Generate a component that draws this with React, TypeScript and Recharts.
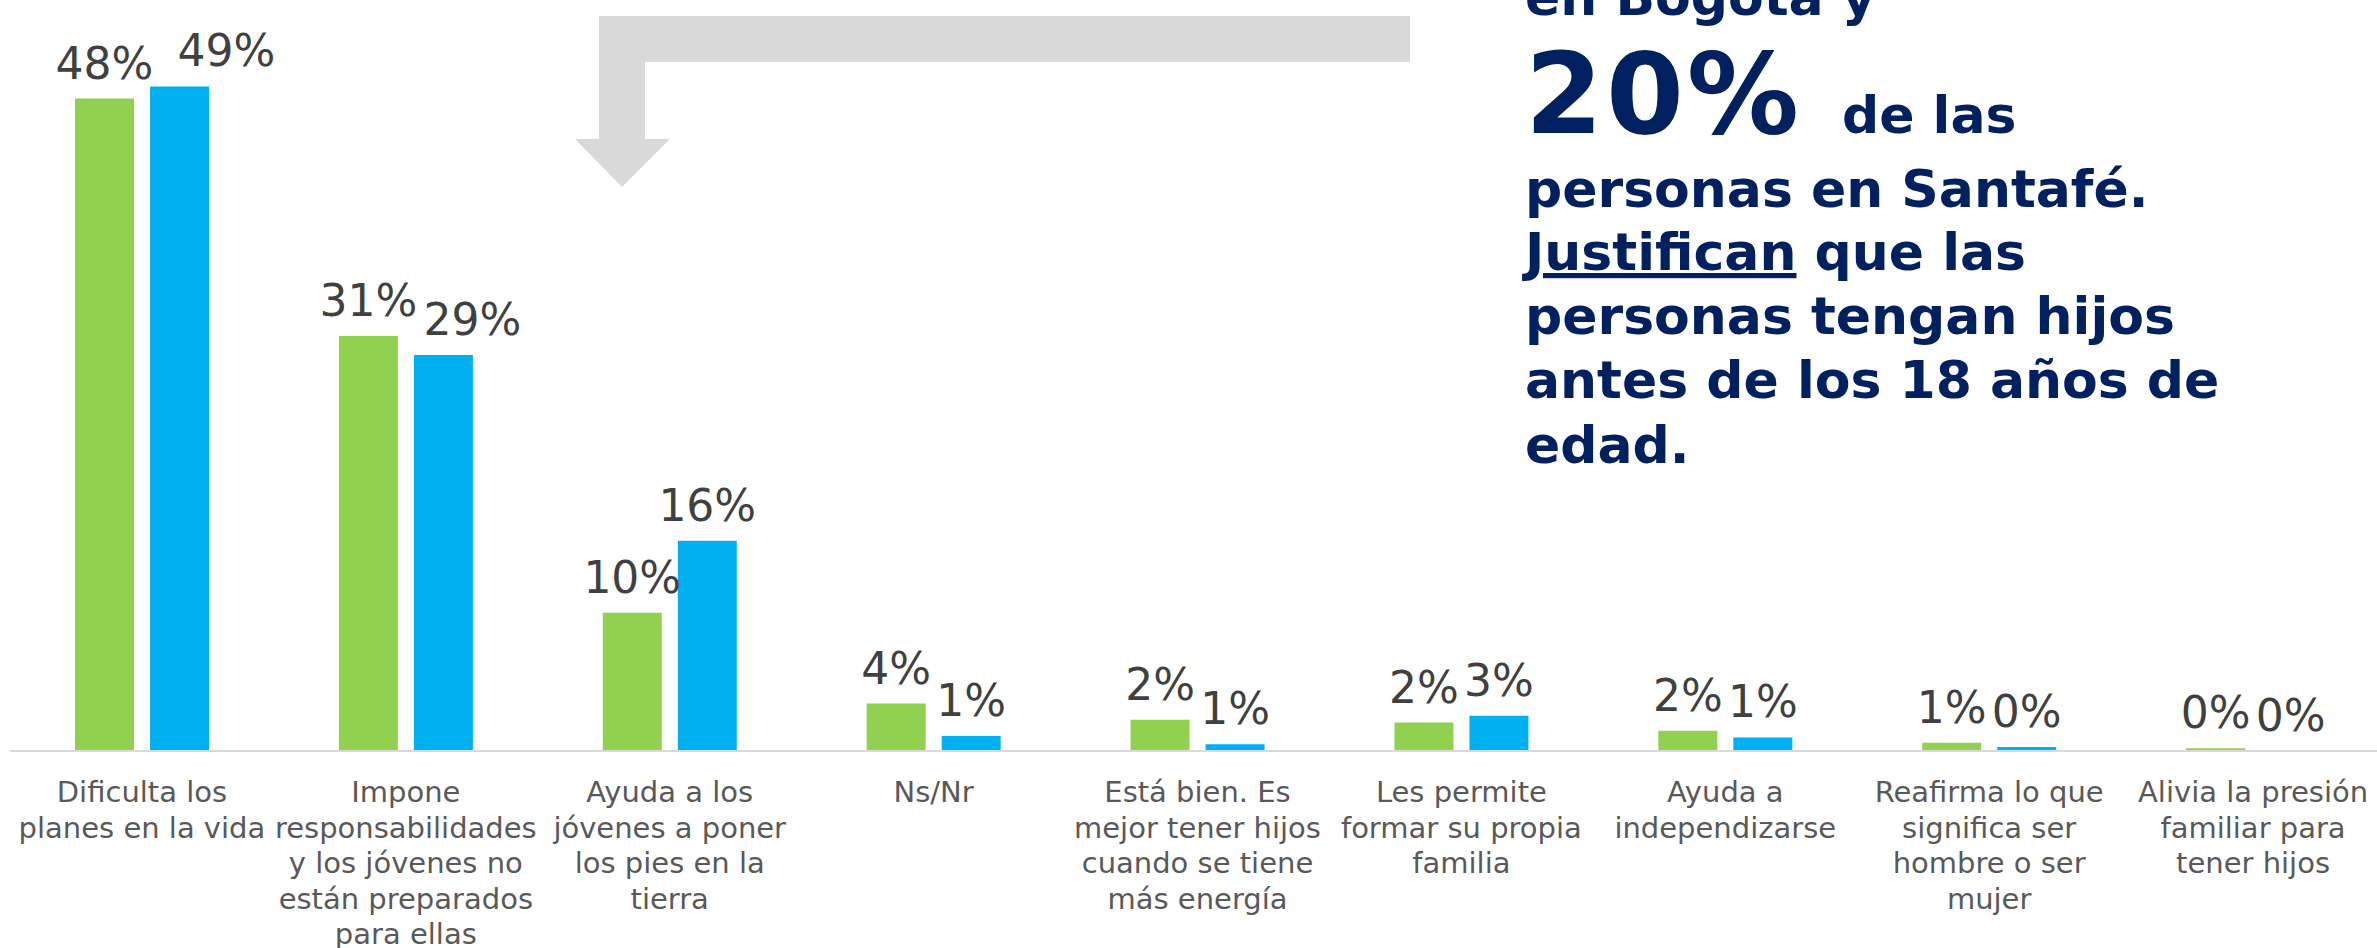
import React from 'react';
import { BarChart, Bar, XAxis, YAxis, LabelList } from 'recharts';

// categories, line breaks as in the original slide
const categories = [
    'Dificulta los\nplanes en la vida',
    'Impone\nresponsabilidades\ny los jóvenes no\nestán preparados\npara ellas',
    'Ayuda a los\njóvenes a poner\nlos pies en la\ntierra',
    'Ns/Nr',
    'Está bien. Es\nmejor tener hijos\ncuando se tiene\nmás energía',
    'Les permite\nformar su propia\nfamilia',
    'Ayuda a\nindependizarse',
    'Reafirma lo que\nsignifica ser\nhombre o ser\nmujer',
    'Alivia la presión\nfamiliar para\ntener hijos',
];

// % per category (green = Bogotá, blue = Santafé)
const bogota = [48.1, 30.6, 10.2, 3.5, 2.3, 2.1, 1.5, 0.6, 0.2];
const santafe = [49.0, 29.2, 15.5, 1.1, 0.5, 2.6, 1.0, 0.3, 0.02];

const data = categories.map((name, i) => ({ name, bogota: bogota[i], santafe: santafe[i] }));

// labels that were nudged right in the slide so they don't collide
const santafeLabelShift = [47, 29];

const FONT = "Verdana, 'DejaVu Sans', sans-serif";
const NAVY = '#002060';

const pct = (v: any) => `${Math.round(Number(v))}%`;

const makeValueLabel = (shifts: number[]) => (props: any) => {
    const { value, index } = props;
    const vb = props.viewBox || {};
    const x = props.x ?? vb.x;
    const y = props.y ?? vb.y;
    const width = props.width ?? vb.width ?? 0;
    return (
        <text
            x={x + width / 2 + (shifts[index] || 0)}
            y={y - 20}
            textAnchor="middle"
            fill="#404040"
            fontSize={44}
            fontFamily={FONT}
        >
            {pct(value)}
        </text>
    );
};

const CategoryTick = (props: any) => {
    const { x, y, payload } = props;
    const lines = String(payload.value).split('\n');
    return (
        <text x={x} y={y + 51} textAnchor="middle" fill="#595959" fontSize={29} fontFamily={FONT}>
            {lines.map((line, i) => (
                <tspan key={i} x={x} dy={i === 0 ? 0 : 35.5}>{line}</tspan>
            ))}
        </text>
    );
};

// grey elbow arrow + callout text on top of the chart
const Callout = () => (
    <svg width={2377} height={948} style={{ position: 'absolute', left: 0, top: 0, pointerEvents: 'none' }}>
        <polygon
            points="1410,16 599,16 599,139 575,139 622,187 670,139 645,139 645,62 1410,62"
            fill="#d9d9d9"
        />
        <g fill={NAVY} fontFamily={FONT} fontWeight="bold" fontSize={52}>
            <text x={1525} y={15}>en Bogotá y</text>
            <text x={1525} y={133}>
                <tspan fontSize={112} letterSpacing={3}>20%</tspan>
                <tspan x={1842}>de las</tspan>
            </text>
            <text x={1525} y={207}>personas en Santafé.</text>
            <text x={1525} y={270}>
                <tspan style={{ textDecoration: 'underline' }}>Justifican</tspan> que las
            </text>
            <text x={1525} y={334}>personas tengan hijos</text>
            <text x={1525} y={398}>antes de los 18 años de</text>
            <text x={1525} y={463}>edad.</text>
        </g>
    </svg>
);

const App: React.FC = () => {
    return (
        <div
            style={{
                position: 'absolute',
                left: 0,
                top: 0,
                width: 2377,
                height: 948,
                overflow: 'hidden',
                background: '#fff',
                fontFamily: FONT,
            }}
        >
            <BarChart
                width={2400}
                height={948}
                data={data}
                margin={{ top: 5, right: 15, left: 10, bottom: 0 }}
                barGap={16}
                barSize={59}
            >
                <XAxis
                    dataKey="name"
                    height={197}
                    interval={0}
                    tickLine={false}
                    tickSize={0}
                    tickMargin={0}
                    axisLine={{ stroke: '#d9d9d9', strokeWidth: 2 }}
                    tick={<CategoryTick />}
                />
                <YAxis hide domain={[0, 55]} />
                <Bar dataKey="bogota" fill="#92D050" isAnimationActive={false}>
                    <LabelList dataKey="bogota" content={makeValueLabel([])} />
                </Bar>
                <Bar dataKey="santafe" fill="#00B0F0" isAnimationActive={false}>
                    <LabelList dataKey="santafe" content={makeValueLabel(santafeLabelShift)} />
                </Bar>
            </BarChart>
            <Callout />
        </div>
    );
};

export default App;
